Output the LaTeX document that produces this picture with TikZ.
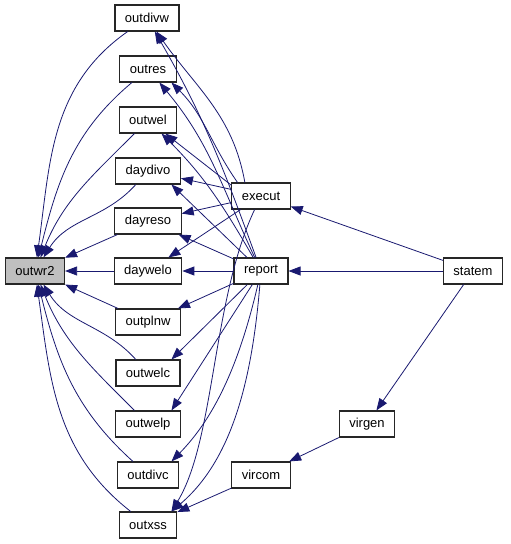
\documentclass[tikz,border=0pt]{standalone}
\usepackage{fontspec}
\setmainfont{Liberation Sans}
\usepackage{xcolor}
\usetikzlibrary{arrows.meta}
\definecolor{CallBlue}{HTML}{191970}
\definecolor{RootGray}{HTML}{BFBFBF}
\tikzset{
  callarrow/.style={-{Triangle[length=12pt,width=9pt]}, draw=CallBlue, line width=0.8pt}
}

\begin{document}
\begin{tikzpicture}[
  x=1pt, y=1pt,
  font=\fontsize{13}{15}\selectfont,
  fn/.style={draw=black!85, fill=white, line width=1.1pt, minimum height=26pt, inner xsep=10pt, inner ysep=2pt},
  rootfn/.style={fn, fill=RootGray}
]
\useasboundingbox (0,0) rectangle (511,-544);

% root of the caller graph
\node[rootfn] at (35,-271) (outwr2) {outwr2};

% direct callers
\node[fn] at (147,-18)  (outdivw) {outdivw};
\node[fn] at (148,-69)  (outres)  {outres};
\node[fn] at (148,-120) (outwel)  {outwel};
\node[fn] at (148,-171) (daydivo) {daydivo};
\node[fn] at (148,-221) (dayreso) {dayreso};
\node[fn] at (148,-271) (daywelo) {daywelo};
\node[fn] at (148,-322) (outplnw) {outplnw};
\node[fn] at (148,-373) (outwelc) {outwelc};
\node[fn] at (148,-424) (outwelp) {outwelp};
\node[fn] at (148,-475) (outdivc) {outdivc};
\node[fn] at (148,-525) (outxss)  {outxss};

% upper levels
\node[fn] at (261,-196) (execut) {execut};
\node[fn] at (261,-271) (report) {report};
\node[fn] at (261,-475) (vircom) {vircom};
\node[fn] at (367,-424) (virgen) {virgen};
\node[fn] at (473,-271) (statem) {statem};

% into outwr2
\draw[callarrow] (outdivw) to[out=215,in=82] (outwr2);
\draw[callarrow] (outres)  to[out=220,in=76] (outwr2);
\draw[callarrow] (outwel)  to[out=225,in=68] (outwr2);
\draw[callarrow] (daydivo) to[out=228,in=58] (outwr2);
\draw[callarrow] (dayreso) -- (outwr2);
\draw[callarrow] (daywelo) -- (outwr2);
\draw[callarrow] (outplnw) -- (outwr2);
\draw[callarrow] (outwelc) to[out=132,in=-58] (outwr2);
\draw[callarrow] (outwelp) to[out=135,in=-68] (outwr2);
\draw[callarrow] (outdivc) to[out=138,in=-76] (outwr2);
\draw[callarrow] (outxss)  to[out=142,in=-82] (outwr2);

% from execut
\draw[callarrow] (execut.140) to[out=100,in=-55] (outdivw);
\draw[callarrow] (execut.150) to[out=125,in=-45] (outres.-30);
\draw[callarrow] (execut.160) -- (outwel);
\draw[callarrow] (execut) -- (daydivo);
\draw[callarrow] (execut) -- (dayreso);
\draw[callarrow] (execut) -- (daywelo);
\draw[callarrow] (execut) .. controls (212,-300) and (215,-440) .. (outxss.30);

% from report
\draw[callarrow] (report) to[out=110,in=-60] (outdivw);
\draw[callarrow] (report) to[out=115,in=-50] (outres);
\draw[callarrow] (report) to[out=120,in=-45] (outwel);
\draw[callarrow] (report) -- (daydivo.-30);
\draw[callarrow] (report) -- (dayreso);
\draw[callarrow] (report) -- (daywelo);
\draw[callarrow] (report) -- (outplnw);
\draw[callarrow] (report) -- (outwelc.30);
\draw[callarrow] (report) -- (outwelp.30);
\draw[callarrow] (report) .. controls (238,-370) and (212,-420) .. (outdivc.30);
\draw[callarrow] (report) .. controls (252,-380) and (232,-460) .. (outxss.30);

% top callers
\draw[callarrow] (statem) -- (execut);
\draw[callarrow] (statem) -- (report);
\draw[callarrow] (statem) -- (virgen);
\draw[callarrow] (virgen) -- (vircom);
\draw[callarrow] (vircom) -- (outxss);
\end{tikzpicture}
\end{document}
